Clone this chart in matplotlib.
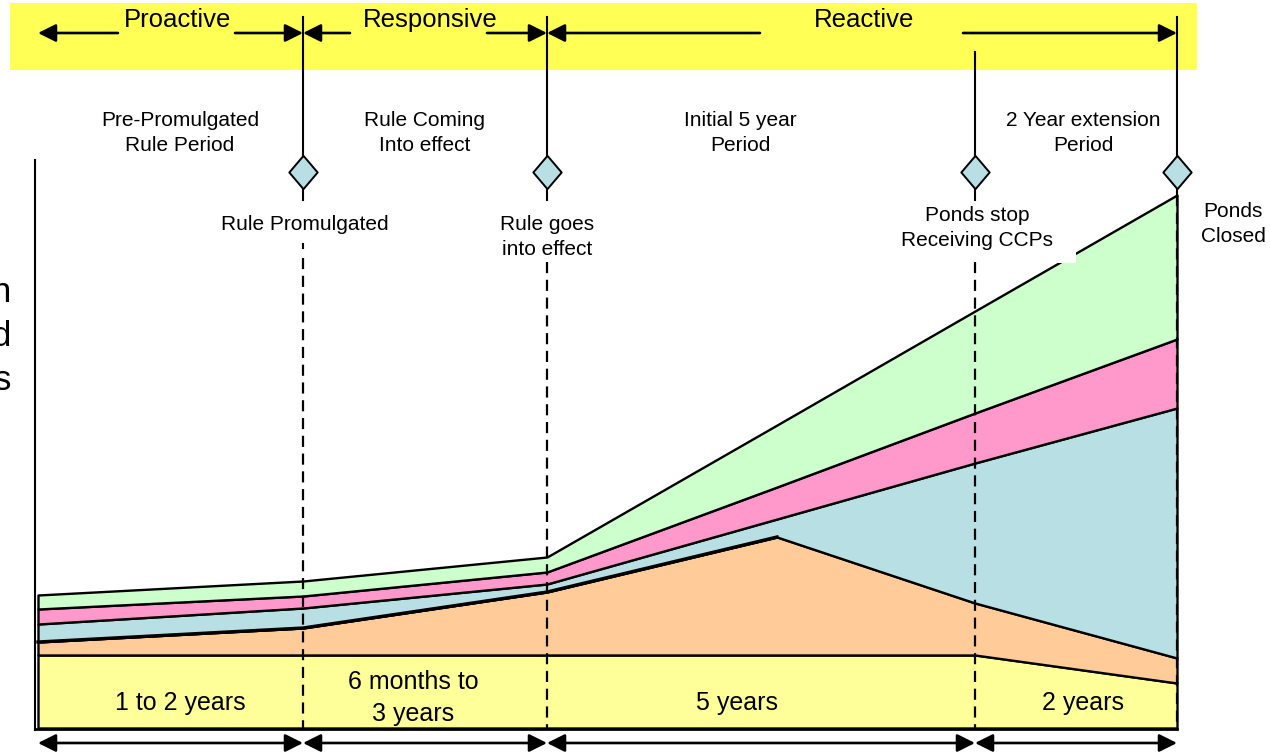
import matplotlib
matplotlib.use('Agg')
import matplotlib.pyplot as plt
from matplotlib.patches import Rectangle

plt.rcParams['font.family'] = ['Liberation Sans', 'DejaVu Sans']

# milestones along the time axis (pixel-like units of the original drawing)
x_pts = [38, 303, 547, 777, 975, 1177]
base = [728, 728, 728, 728, 728, 728]
yellow_top = [655, 655, 655, 655, 655, 683]
orange_top = [642, 628, 592, 537, 603, 658]
blue_top = [624, 608, 584, 519, 463, 408]
pink_top = [609, 596, 572, 487, 413, 339]
green_top = [595, 581, 557, 425, 311, 195]

milestones = [303, 547, 975, 1177]
phase_names = ['Proactive', 'Responsive', 'Reactive']
phase_x = [178, 430, 864]
period_labels = ['Pre-Promulgated\nRule Period', 'Rule Coming\nInto effect',
                 'Initial 5 year\nPeriod', '2 Year extension\nPeriod']
period_x = [180, 425, 740, 1083]
event_labels = ['Rule Promulgated', 'Rule goes\ninto effect',
                'Ponds stop\nReceiving CCPs', 'Ponds\nClosed']
event_x = [305, 547, 977, 1233]
event_y = [225, 237, 228, 224]
dur_labels = ['1 to 2 years', '6 months to\n3 years', '5 years', '2 years']
dur_x = [180, 413, 737, 1083]

fig = plt.figure(figsize=(12.7, 7.55), dpi=100)
ax = fig.add_axes([0, 0, 1, 1])
ax.set_xlim(0, 1270)
ax.set_ylim(755, 0)
ax.axis('off')

# header band
ax.add_patch(Rectangle((10, 3), 1187, 67, facecolor='#FFFF55', edgecolor='none', zorder=0))

# stacked layers
layers = [(base, yellow_top, '#FFFF99'),
          (yellow_top, orange_top, '#FFCC99'),
          (orange_top, blue_top, '#B8E0E4'),
          (blue_top, pink_top, '#FF99CC'),
          (pink_top, green_top, '#CCFFCC')]
for lo, hi, col in layers:
    ax.fill_between(x_pts, lo, hi, facecolor=col, edgecolor='black', lw=1.7, zorder=2)
ax.plot(x_pts[:4], orange_top[:4], color='black', lw=2.4, zorder=3)

# white patch near the label
ax.add_patch(Rectangle((1050, 246), 26, 17, facecolor='white', edgecolor='none', zorder=4))

# left axis and baseline
ax.plot([35, 35], [160, 730], color='black', lw=1.5, zorder=3)
ax.plot([35, 1177], [729, 729], color='black', lw=2, zorder=3)

# milestone lines
tops = [17, 17, 52, 17]
dash_start = [258, 262, 262, 195]
for mx, t, ds in zip(milestones, tops, dash_start):
    ax.plot([mx, mx], [t, 160], color='black', lw=1.5, zorder=3)
    ax.plot([mx, mx], [184, 200 if mx != 1177 else 195], color='black', lw=1.5, zorder=3)
    ax.plot([mx, mx], [ds, 728], color='black', lw=1.6, ls=(0, (5, 3)), zorder=5)
ax.plot([303, 303], [244, 248], color='black', lw=1.5, zorder=5)

dverts = [(0, 1), (0.85, 0), (0, -1), (-0.85, 0), (0, 1)]
ax.plot(milestones, [172] * len(milestones), ls='none', marker=dverts, markersize=24,
        markerfacecolor='#B8E0E4', markeredgecolor='black', markeredgewidth=1.4, zorder=6)

# header arrows
ap = dict(arrowstyle='-|>,head_length=0.6,head_width=0.3', color='black', lw=1.9,
          shrinkA=0, shrinkB=0, mutation_scale=18)
seg_left = [(118, 38), (350, 303), (760, 547)]
seg_right = [(235, 303), (487, 547), (963, 1177)]
for (a, b) in seg_left + seg_right:
    ax.annotate('', xy=(b, 33), xytext=(a, 33), arrowprops=ap, zorder=5)
for name, px in zip(phase_names, phase_x):
    ax.text(px, 20, name, fontsize=18.5, ha='center', va='center', zorder=6)

# bottom duration arrows
bounds = [38] + milestones
ap2 = dict(ap, arrowstyle='<|-|>,head_length=0.6,head_width=0.3')
for a, b in zip(bounds[:-1], bounds[1:]):
    ax.annotate('', xy=(b, 743), xytext=(a, 743), arrowprops=ap2, zorder=5)

for lab, px in zip(period_labels, period_x):
    ax.text(px, 133, lab, fontsize=15, ha='center', va='center',
            multialignment='center', linespacing=1.4)
for lab, px, py in zip(event_labels, event_x, event_y):
    ax.text(px, py, lab, fontsize=15, ha='center', va='center',
            multialignment='center', linespacing=1.4, zorder=7)
for lab, px in zip(dur_labels, dur_x):
    ax.text(px, 698 if '\n' in lab else 703, lab, fontsize=18, ha='center', va='center',
            multialignment='center', linespacing=1.4, zorder=7)

# clipped y label fragments on the left edge
for ch, py in zip(['n', 'd', 's'], [292, 336, 380]):
    ax.text(11, py, ch, fontsize=25, ha='right', va='center')

fig.savefig('out.png', dpi=100)
